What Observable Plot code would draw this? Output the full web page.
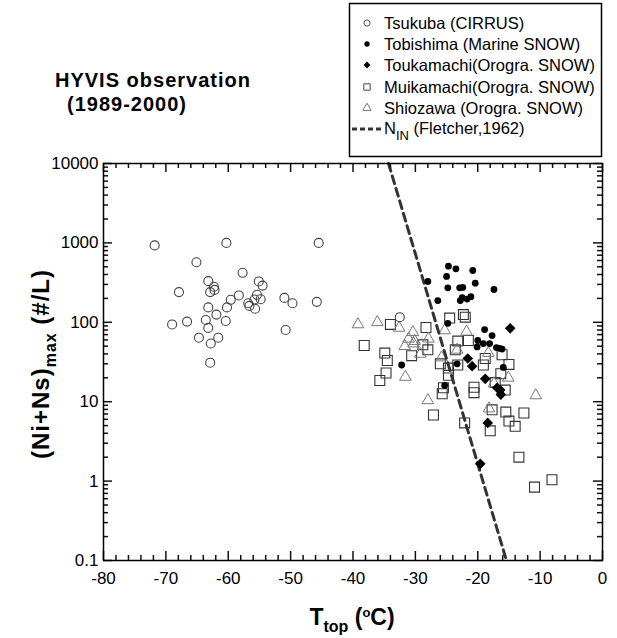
<!DOCTYPE html>
<html><head><meta charset="utf-8">
<script src="https://cdn.jsdelivr.net/npm/d3@7"></script>
<script src="https://cdn.jsdelivr.net/npm/@observablehq/plot@0.6"></script>
<style>
body{margin:0;background:#fff;}
#wrap{width:617px;font-family:"Liberation Sans",Arial,sans-serif;}
svg{display:block;}
</style></head><body><div id="wrap"></div>
<script>
// ---- data ----
const tsukubaT = [-71.8,-60.3,-45.5,-65.1,-57.7,-63.2,-62.3,-62.2,-62.9,-67.9,-55.1,-54.5,-58.3,-59.6,-55.4,-54.8,-55.8,-56.8,-56.6,-55.7,-51.0,-49.7,-45.8,-60.2,-63.2,-61.9,-63.6,-60.4,-66.6,-69.0,-63.2,-50.8,-64.7,-61.6,-62.8,-62.9,-32.5];
const tsukubaN = [930,1000,1000,570,420,330,280,256,240,240,327,290,218,192,222,195,194,174,161,148,203,174,181,154,154,125,107,104,102,94,85,80,64,64,54,31,116];

const tobishimaT = [-24.7,-23.5,-25.0,-20.8,-28.0,-24.8,-22.9,-22.4,-20.4,-17.4,-26.4,-22.8,-22.5,-21.7,-21.1,-24.8,-32.2,-23.3,-25.3,-20.0,-18.9,-17.7,-19.1,-18.1,-20.1,-17.0,-16.5,-16.1,-15.9,-16.4];
const tobishimaN = [509,471,378,449,327,272,272,275,311,259,188,188,205,196,210,97,29,30,16,59,81,68,54,54,49,48,47,46,27,12.6];

const toukamachiT = [-14.8,-21.6,-20.9,-18.8,-16.9,-16.4,-16.3,-18.4,-19.6];
const toukamachiN = [84,35,28,19.4,15,14,12.3,5.4,1.65];

const muikamachiT = [-34.0,-38.2,-34.9,-34.5,-34.7,-35.7,-28.3,-28.8,-28.0,-30.6,-24.5,-22.3,-22.0,-23.2,-21.5,-23.6,-26.0,-24.7,-23.2,-24.7,-25.5,-25.7,-20.6,-20.6,-18.8,-19.1,-16.1,-15.0,-16.3,-15.6,-17.2,-27.1,-22.1,-17.7,-18.0,-15.5,-15.0,-14.0,-12.6,-13.4,-10.9,-8.1];
const muikamachiN = [94,51,41,33,23,18.5,86,52,45,38,113,125,116,58,59,45,30,26.5,29,21.5,15,12.6,15.2,13,35,29,39,29.5,22.5,14,17.4,6.8,5.4,7.9,4.3,7.4,5.7,4.9,7.2,2.0,0.84,1.04];

const shiozawaT = [-39.2,-36.1,-32.6,-30.4,-31.1,-31.7,-30.3,-30.1,-27.9,-29.2,-31.6,-28.0,-25.3,-21.8,-23.3,-25.8,-18.3,-15.1,-17.4,-10.7,-18.2];
const shiozawaN = [94,100,85,75,62,50,54,58,62,40,20.5,10.4,79,76,45,36,41,20,17,12,8.2];

const ninT = [-34.3,-15.4];
const ninN = [10000,0.1];

const xMajor = [-80,-70,-60,-50,-40,-30,-20,-10,0];
const xMinor = [-78,-76,-74,-72,-68,-66,-64,-62,-58,-56,-54,-52,-48,-46,-44,-42,-38,-36,-34,-32,-28,-26,-24,-22,-18,-16,-14,-12,-8,-6,-4,-2];
const yMajor = [0.1,1,10,100,1000,10000];
const yMinor = [0.2,0.3,0.4,0.5,0.6,0.7,0.8,0.9,2,3,4,5,6,7,8,9,20,30,40,50,60,70,80,90,200,300,400,500,600,700,800,900,2000,3000,4000,5000,6000,7000,8000,9000];

const legendLabels = ["Tsukuba (CIRRUS)","Tobishima (Marine SNOW)","Toukamachi(Orogra. SNOW)","Muikamachi(Orogra. SNOW)","Shiozawa (Orogra. SNOW)"];

// ---- tables ----
const zip = (T, N) => T.map((t, i) => ({T: t, N: N[i]}));
const tsukuba = zip(tsukubaT, tsukubaN);
const tobishima = zip(tobishimaT, tobishimaN);
const toukamachi = zip(toukamachiT, toukamachiN);
const muikamachi = zip(muikamachiT, muikamachiN);
const shiozawa = zip(shiozawaT, shiozawaN);
const nin = zip(ninT, ninN);

const FONT = "'Liberation Sans', Arial, sans-serif";
const wrap = d3.select("#wrap");

// ---- header: title + legend ----
const head = wrap.append("svg").attr("width", 617).attr("height", 160)
  .style("overflow", "visible").style("font-family", FONT);
head.append("text").attr("x", 55).attr("y", 87).attr("font-weight", "bold")
  .attr("font-size", 20).attr("letter-spacing", 1).text("HYVIS observation");
head.append("text").attr("x", 67).attr("y", 111).attr("font-weight", "bold")
  .attr("font-size", 20).attr("letter-spacing", 1).text("(1989-2000)");

head.append("rect").attr("x", 349.5).attr("y", 3.5).attr("width", 252).attr("height", 153)
  .attr("fill", "#fff").attr("stroke", "#000").attr("stroke-width", 1.5);
const legSym = [
  {type: d3.symbolCircle, size: 30, fill: "none", stroke: "#555"},
  {type: d3.symbolCircle, size: 22, fill: "#000", stroke: "none"},
  {type: d3.symbolDiamond2, size: 30, fill: "#000", stroke: "none"},
  {type: d3.symbolSquare, size: 40, fill: "none", stroke: "#444"},
  {type: d3.symbolTriangle, size: 30, fill: "none", stroke: "#777"}
];
const rowY = [23, 44, 65, 87, 108];
legendLabels.forEach((lab, i) => {
  const s = legSym[i];
  head.append("path").attr("transform", `translate(367,${rowY[i]})`)
    .attr("d", d3.symbol(s.type, s.size)()).attr("fill", s.fill)
    .attr("stroke", s.stroke).attr("stroke-width", 1);
  head.append("text").attr("x", 384).attr("y", rowY[i] + 6).attr("font-size", 16.5).text(lab);
});
head.append("line").attr("x1", 352).attr("x2", 382).attr("y1", 129).attr("y2", 129)
  .attr("stroke", "#333").attr("stroke-width", 3).attr("stroke-dasharray", "5,3");
const ninText = head.append("text").attr("x", 384).attr("y", 134).attr("font-size", 16.5);
ninText.append("tspan").text("N");
ninText.append("tspan").attr("font-size", 13).attr("dy", 6).text("IN");
ninText.append("tspan").attr("dy", -6).text(" (Fletcher,1962)");

// ---- plot ----
const W = 617, H = 478, MT = 3, MB = 78, ML = 103, MR = 15;
const FW = W - ML - MR, FH = H - MT - MB;   // frame size in px
const MAJ = 9, MIN = 5;                     // tick lengths in px
const tickStyle = {stroke: "#111", strokeWidth: 1.5};
const chart = Plot.plot({
  width: W,
  height: H,
  marginTop: MT,
  marginBottom: MB,
  marginLeft: ML,
  marginRight: MR,
  style: {fontFamily: FONT, fontSize: "17px", overflow: "visible", background: "white", color: "#000"},
  x: {domain: [-80, 0]},
  y: {type: "log", domain: [0.1, 10000]},
  marks: [
    Plot.dot(muikamachi, {x: "T", y: "N", symbol: "square", r: 5.6, stroke: "#333", strokeWidth: 1.1, fill: "none"}),
    Plot.dot(shiozawa, {x: "T", y: "N", symbol: "triangle", r: 4.3, stroke: "#777", strokeWidth: 1, fill: "none"}),
    Plot.dot(tsukuba, {x: "T", y: "N", symbol: "circle", r: 4.5, stroke: "#444", strokeWidth: 1.1, fill: "none"}),
    Plot.line(nin, {x: "T", y: "N", stroke: "#333", strokeWidth: 3, strokeDasharray: "8,5"}),
    Plot.dot(tobishima, {x: "T", y: "N", symbol: "circle", r: 3.4, fill: "#000", stroke: "none"}),
    Plot.dot(toukamachi, {x: "T", y: "N", symbol: "diamond2", r: 4.8, fill: "#000", stroke: "none"}),
    // inward ticks on all four sides
    Plot.ruleX(xMajor, {x: d => d, insetTop: FH - MAJ, ...tickStyle}),
    Plot.ruleX(xMinor, {x: d => d, insetTop: FH - MIN, ...tickStyle}),
    Plot.ruleX(xMajor, {x: d => d, insetBottom: FH - MAJ, ...tickStyle}),
    Plot.ruleX(xMinor, {x: d => d, insetBottom: FH - MIN, ...tickStyle}),
    Plot.ruleY(yMajor, {y: d => d, insetRight: FW - MAJ, ...tickStyle}),
    Plot.ruleY(yMinor, {y: d => d, insetRight: FW - MIN, ...tickStyle}),
    Plot.ruleY(yMajor, {y: d => d, insetLeft: FW - MAJ, ...tickStyle}),
    Plot.ruleY(yMinor, {y: d => d, insetLeft: FW - MIN, ...tickStyle}),
    Plot.frame({stroke: "#000", strokeWidth: 1.5}),
    // tick labels
    Plot.axisX({anchor: "bottom", ticks: xMajor, tickSize: 0, tickPadding: 11, tickFormat: d => String(d), fontSize: 17, label: null}),
    Plot.axisY({anchor: "left", ticks: yMajor, tickSize: 0, tickPadding: 5, tickFormat: d => String(d), fontSize: 17, label: null})
  ]
});
wrap.node().appendChild(chart);

// axis titles
const svg = d3.select(chart);
const xt = svg.append("text").attr("x", 352).attr("y", 465).attr("text-anchor", "middle")
  .attr("font-weight", "bold").attr("font-size", 23).attr("fill", "#000").style("font-family", FONT);
xt.append("tspan").text("T");
xt.append("tspan").attr("font-size", 16).attr("dy", 7).text("top");
xt.append("tspan").attr("dy", -7).text(" (");
xt.append("tspan").attr("font-size", 13).attr("dy", -8).text("o");
xt.append("tspan").attr("dy", 8).text("C)");

const yt = svg.append("text").attr("transform", "translate(49,204) rotate(-90)").attr("text-anchor", "middle")
  .attr("font-weight", "bold").attr("font-size", 24).attr("letter-spacing", 1).attr("fill", "#000").style("font-family", FONT);
yt.append("tspan").text("(Ni+Ns)");
yt.append("tspan").attr("font-size", 16).attr("dy", 7).text("max");
yt.append("tspan").attr("dy", -7).text(" (#/L)");
</script></body></html>
